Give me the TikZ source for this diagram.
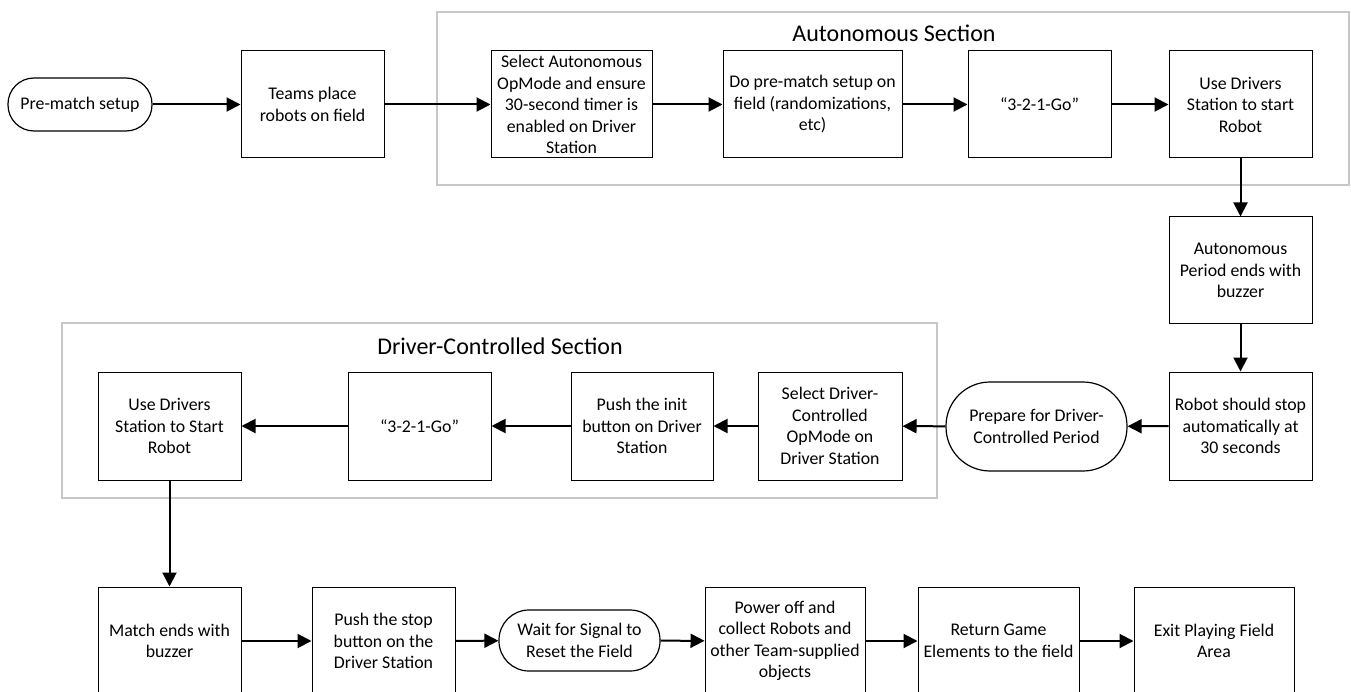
\documentclass[tikz,border=0pt]{standalone}
\usepackage{fontspec}
\setmainfont{Carlito}
\usetikzlibrary{arrows.meta}
\begin{document}
\begin{tikzpicture}[x=1pt,y=-1pt,
  txt/.style={font=\fontsize{17.8}{21.5}\selectfont, align=center, inner sep=0pt},
  box/.style={txt, draw=black, line width=1pt, fill=white, minimum height=107pt},
  term/.style={txt, draw=black, line width=1.2pt, fill=white},
  frame/.style={draw=black!22, line width=1.6pt},
  ttl/.style={font=\fontsize{24}{28}\selectfont, inner sep=0pt},
  flow/.style={line width=2pt, -{Triangle[length=14pt,width=14pt]}}]
\useasboundingbox (0,0) rectangle (1351,692);
% frames
\draw[frame] (437,12) rectangle (1349,185);
\draw[frame] (62,323) rectangle (937,498);
\node[ttl] (t1) at (894,33) {Autonomous Section};
\node[ttl] (t2) at (500,346) {Driver-Controlled Section};
% top row
\node[term, minimum width=144pt, minimum height=53pt, rounded corners=26pt] (pre) at (80,104.5) {Pre-match setup};
\node[box, minimum width=143pt] (teams) at (312.5,104.5) {Teams place\\robots on field};
\node[box, minimum width=161pt] (selauto) at (571.5,104.5) {Select Autonomous\\OpMode and ensure\\30-second timer is\\enabled on Driver\\Station};
\node[box, minimum width=179pt] (prematch) at (812.5,104.5) {Do pre-match setup on\\field (randomizations,\\etc)};
\node[box, minimum width=143pt] (go1) at (1039.5,104.5) {“3-2-1-Go”};
\node[box, minimum width=143pt] (usestart) at (1240.5,104.5) {Use Drivers\\Station to start\\Robot};
% right column
\node[box, minimum width=143pt] (autoend) at (1240.5,270.5) {Autonomous\\Period ends with\\buzzer};
\node[box, minimum width=143pt, minimum height=108pt] (robotstop) at (1240.5,426) {Robot should stop\\automatically at\\30 seconds};
% middle row
\node[term, minimum width=181pt, minimum height=89pt, rounded corners=44pt] (prepare) at (1036.5,426.5) {Prepare for Driver-\\Controlled Period};
\node[box, minimum width=144pt, minimum height=108pt] (seldrv) at (830,426) {Select Driver-\\Controlled\\OpMode on\\Driver Station};
\node[box, minimum width=142pt, minimum height=108pt] (pushinit) at (642,426) {Push the init\\button on Driver\\Station};
\node[box, minimum width=143pt, minimum height=108pt] (go2) at (419.5,426) {“3-2-1-Go”};
\node[box, minimum width=143pt, minimum height=108pt] (usestart2) at (169.5,426) {Use Drivers\\Station to Start\\Robot};
% bottom row
\node[box, minimum width=143pt, minimum height=108pt] (matchend) at (169.5,641) {Match ends with\\buzzer};
\node[box, minimum width=143pt, minimum height=108pt] (pushstop) at (383.5,641) {Push the stop\\button on the\\Driver Station};
\node[term, minimum width=161pt, minimum height=61pt, rounded corners=30pt] (wait) at (579.5,640.5) {Wait for Signal to\\Reset the Field};
\node[box, minimum width=160pt, minimum height=108pt] (power) at (785,641) {Power off and\\collect Robots and\\other Team-supplied\\objects};
\node[box, minimum width=161pt, minimum height=108pt] (return) at (998.5,641) {Return Game\\Elements to the field};
\node[box, minimum width=160pt, minimum height=108pt] (exit) at (1214,641) {Exit Playing Field\\Area};
% connectors
\draw[flow] (pre) -- (teams);
\draw[flow] (teams) -- (selauto);
\draw[flow] (selauto) -- (prematch);
\draw[flow] (prematch) -- (go1);
\draw[flow] (go1) -- (usestart);
\draw[flow] (usestart) -- (autoend);
\draw[flow] (autoend) -- (robotstop);
\draw[flow] (robotstop) -- (prepare);
\draw[flow] (prepare) -- (seldrv);
\draw[flow] (seldrv) -- (pushinit);
\draw[flow] (pushinit) -- (go2);
\draw[flow] (go2) -- (usestart2);
\draw[flow] (usestart2) -- (matchend);
\draw[flow] (matchend) -- (pushstop);
\draw[flow] (pushstop) -- (wait);
\draw[flow] (wait) -- (power);
\draw[flow] (power) -- (return);
\draw[flow] (return) -- (exit);
\end{tikzpicture}
\end{document}
